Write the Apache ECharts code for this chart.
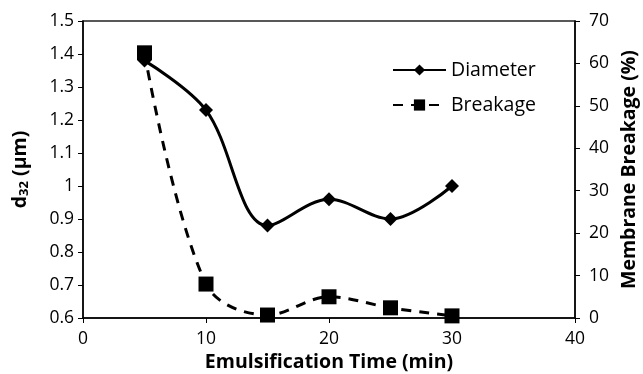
<!DOCTYPE html>
<html>
<head>
<meta charset="utf-8">
<script src="https://cdn.jsdelivr.net/npm/echarts@6/dist/echarts.min.js"></script>
</head>
<body style="margin:0;background:#fff">
<div id="chart" style="width:643px;height:374px;"></div>
<script>
var times = [5, 10, 15, 20, 25, 30];
var diameter = [1.38, 1.23, 0.88, 0.96, 0.90, 1.00];
var breakage = [62.5, 8, 0.7, 5, 2.4, 0.5];

var font = '"Open Sans", "Liberation Sans", sans-serif';

function pairs(xs, ys) {
    return xs.map(function (x, i) { return [x, ys[i]]; });
}

var chart = echarts.init(document.getElementById('chart'));
chart.setOption({
    animation: false,
    textStyle: { fontFamily: font, color: '#000' },
    grid: {
        left: 83, right: 68, top: 21, bottom: 56,
        outerBoundsMode: 'none', containLabel: false,
        show: true, borderColor: '#222', borderWidth: 1.5
    },
    legend: {
        orient: 'vertical',
        left: 387, top: 55,
        itemWidth: 53, itemHeight: 14, itemGap: 15,
        textStyle: { fontSize: 19.5, color: '#000', fontFamily: font },
        data: ['Diameter', 'Breakage']
    },
    xAxis: {
        type: 'value', min: 0, max: 40, interval: 10,
        name: 'Emulsification Time (min)', nameLocation: 'middle', nameGap: 31,
        nameTextStyle: { fontSize: 19.5, fontWeight: 'bold', color: '#000' },
        axisLine: { lineStyle: { color: '#000', width: 1.5 } },
        axisTick: { show: true, length: 5, lineStyle: { color: '#000' } },
        axisLabel: { fontSize: 17.5, color: '#000', margin: 12 },
        splitLine: { show: false }
    },
    yAxis: [{
        type: 'value', min: 0.6, max: 1.5, interval: 0.1,
        name: '{a|d}{s|32}{a| (µm)}', nameLocation: 'middle', nameGap: 52, nameRotate: 90,
        nameTextStyle: {
            rich: {
                a: { fontSize: 19.5, fontWeight: 'bold', color: '#000', fontFamily: font },
                s: { fontSize: 13, fontWeight: 'bold', color: '#000', fontFamily: font, verticalAlign: 'bottom', padding: [9, 0, 0, 0] }
            }
        },
        axisLine: { show: true, lineStyle: { color: '#000', width: 1.5 } },
        axisTick: { show: true, length: 5, lineStyle: { color: '#000' } },
        axisLabel: {
            fontSize: 17.5, color: '#000', margin: 9,
            formatter: function (v) { return (Math.round(v * 10) / 10).toString(); }
        },
        splitLine: { show: false }
    }, {
        type: 'value', min: 0, max: 70, interval: 10, position: 'right',
        name: 'Membrane Breakage (%)', nameLocation: 'middle', nameGap: 44, nameRotate: 90,
        nameTextStyle: { fontSize: 19.5, fontWeight: 'bold', color: '#000' },
        axisLine: { show: true, lineStyle: { color: '#000', width: 1.5 } },
        axisTick: { show: true, length: 5, lineStyle: { color: '#000' } },
        axisLabel: { fontSize: 17.5, color: '#000', margin: 14 },
        splitLine: { show: false }
    }],
    series: [{
        name: 'Diameter', type: 'line', yAxisIndex: 0, smooth: 0.35,
        data: pairs(times, diameter),
        symbol: 'diamond', symbolSize: 14,
        lineStyle: { color: '#000', width: 3 },
        itemStyle: { color: '#000' }
    }, {
        name: 'Breakage', type: 'line', yAxisIndex: 1, smooth: 0.35,
        data: pairs(times, breakage),
        symbol: 'rect', symbolSize: 15,
        lineStyle: { color: '#000', width: 3, type: [10, 8] },
        itemStyle: { color: '#000' }
    }]
});
</script>
</body>
</html>
